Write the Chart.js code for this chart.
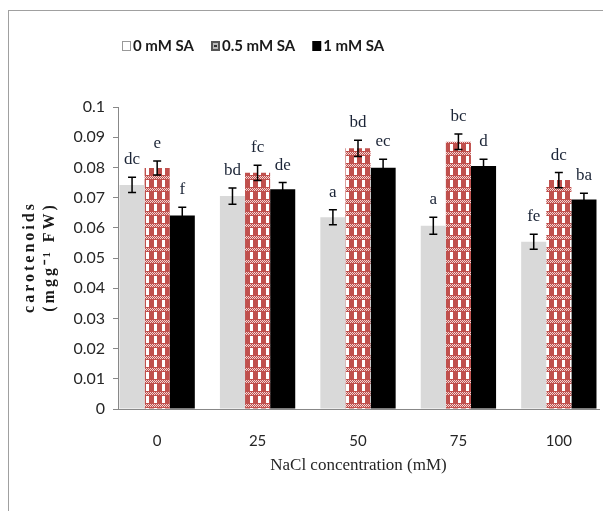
<!DOCTYPE html>
<html>
<head>
<meta charset="utf-8">
<script src="https://cdn.jsdelivr.net/npm/chart.js@4.4.1/dist/chart.umd.min.js"></script>
<style>
  html, body { margin: 0; padding: 0; background: #fff; }
  #wrap { position: relative; width: 603px; height: 511px; }
  #frame { position: absolute; left: 8px; top: 10px; right: 0; bottom: 0; border-top: 1px solid #a0a0a0; border-left: 1px solid #a0a0a0; }
  #chart { position: absolute; left: 0; top: 0; }
</style>
</head>
<body>
<div id="wrap"><div id="frame"></div><canvas id="chart" width="603" height="511"></canvas></div>
<script>
// Chart data
const concentrations = ['0', '25', '50', '75', '100'];
const seriesNames = ['0 mM SA', '0.5 mM SA', '1 mM SA'];
const sa0 = [0.0742, 0.0705, 0.0635, 0.0607, 0.0554];
const sa05 = [0.0798, 0.0782, 0.0863, 0.0885, 0.0758];
const sa1 = [0.0641, 0.0728, 0.0799, 0.0805, 0.0694];
const sa0Err = [0.0025, 0.0027, 0.0025, 0.0028, 0.0025];
const sa05Err = [0.0023, 0.0025, 0.0027, 0.0026, 0.0025];
const sa1Err = [0.0027, 0.0022, 0.0028, 0.0022, 0.0020];
const sa0Letters = ['dc', 'bd', 'a', 'a', 'fe'];
const sa05Letters = ['e', 'fc', 'bd', 'bc', 'dc'];
const sa1Letters = ['f', 'de', 'ec', 'd', 'ba'];
const yTickLabels = ['0', '0.01', '0.02', '0.03', '0.04', '0.05', '0.06', '0.07', '0.08', '0.09', '0.1'];

// red checkered fill for the 0.5 mM bars
function makeCheck() {
  const c = document.createElement('canvas');
  c.width = 8;
  c.height = 12;
  const g = c.getContext('2d');
  g.fillStyle = '#c0504d';
  g.fillRect(0, 0, 8, 12);
  g.fillStyle = '#ffffff';
  g.fillRect(2, 0, 3, 7);
  g.fillStyle = '#f2d4d3';
  for (let x = 0; x < 8; x++) {
    for (let y = 8; y < 11; y++) {
      if ((x + y) % 2 === 0) g.fillRect(x, y, 1, 1);
    }
  }
  return g.createPattern(c, 'repeat');
}

function toPoints(values) {
  return values.map((v, i) => ({ x: i, y: v }));
}

const checkFill = makeCheck();

// error bars + significance letters
const errorBars = {
  id: 'errorBars',
  afterDatasetsDraw(chart) {
    const ctx = chart.ctx;
    const yScale = chart.scales.y;
    ctx.save();
    chart.data.datasets.forEach((ds, d) => {
      const meta = chart.getDatasetMeta(d);
      meta.data.forEach((bar, i) => {
        const v = ds.data[i].y;
        const e = ds.err[i];
        const top = yScale.getPixelForValue(v + e);
        const bot = yScale.getPixelForValue(v - e);
        ctx.strokeStyle = '#000';
        ctx.lineWidth = 1.5;
        ctx.beginPath();
        ctx.moveTo(bar.x, top);
        ctx.lineTo(bar.x, bot);
        ctx.moveTo(bar.x - 4, top);
        ctx.lineTo(bar.x + 4, top);
        ctx.moveTo(bar.x - 4, bot);
        ctx.lineTo(bar.x + 4, bot);
        ctx.stroke();
        ctx.fillStyle = '#1b2436';
        ctx.font = '17px "Liberation Serif"';
        ctx.textAlign = 'center';
        ctx.textBaseline = 'alphabetic';
        ctx.fillText(ds.letters[i], bar.x, top - 13);
      });
    });
    ctx.restore();
  }
};

// legend and y title drawn by hand
const extras = {
  id: 'extras',
  afterDraw(chart) {
    const ctx = chart.ctx;
    ctx.save();
    ctx.font = 'bold 15px Lato';
    ctx.textBaseline = 'middle';
    ctx.textAlign = 'left';
    let x = 122;
    const y = 46;
    seriesNames.forEach((name, i) => {
      if (i === 0) {
        ctx.fillStyle = '#fff';
        ctx.fillRect(x, y - 5, 9, 10);
        ctx.strokeStyle = '#999';
        ctx.lineWidth = 1;
        ctx.strokeRect(x + 0.5, y - 4.5, 8, 9);
      } else if (i === 1) {
        ctx.fillStyle = '#555';
        ctx.fillRect(x, y - 5, 9, 10);
        ctx.fillStyle = '#bbb';
        ctx.fillRect(x + 2, y - 3, 5, 6);
        ctx.fillStyle = '#333';
        ctx.fillRect(x + 3, y - 1, 3, 2);
      } else {
        ctx.fillStyle = '#000';
        ctx.fillRect(x, y - 5, 9, 10);
      }
      ctx.fillStyle = '#1a1a1a';
      ctx.fillText(name, x + 11, y);
      x += 11 + ctx.measureText(name).width + 17;
    });

    ctx.font = 'bold 16px "Liberation Serif"';
    ctx.letterSpacing = '3px';
    ctx.textAlign = 'center';
    ctx.fillStyle = '#1a1a1a';
    ctx.translate(30, 257);
    ctx.rotate(-Math.PI / 2);
    ctx.fillText('carotenoids', 0, 0);
    ctx.fillText('(mgg\u207B\u00B9 FW)', 0, 20);
    ctx.restore();
  }
};

new Chart(document.getElementById('chart'), {
  type: 'bar',
  data: {
    datasets: [
      { label: seriesNames[0], data: toPoints(sa0), err: sa0Err, letters: sa0Letters, backgroundColor: '#d9d9d9' },
      { label: seriesNames[1], data: toPoints(sa05), err: sa05Err, letters: sa05Letters, backgroundColor: checkFill },
      { label: seriesNames[2], data: toPoints(sa1), err: sa1Err, letters: sa1Letters, backgroundColor: '#000000' }
    ]
  },
  options: {
    responsive: false,
    animation: false,
    categoryPercentage: 0.75,
    barPercentage: 1,
    layout: { padding: { top: 107, right: 4, bottom: 0, left: 0 } },
    plugins: {
      legend: { display: false },
      tooltip: { enabled: false }
    },
    scales: {
      x: {
        type: 'linear',
        offset: false,
        min: -0.39,
        max: 4.4,
        afterBuildTicks: s => { s.ticks = concentrations.map((_, i) => ({ value: i })); },
        afterFit: s => { s.height = 102; },
        ticks: {
          callback: v => concentrations[v],
          font: { family: 'Lato', size: 15 },
          color: '#262626',
          padding: 15,
          maxRotation: 0,
          autoSkip: false
        },
        grid: { display: false },
        border: { display: true, color: '#888' },
        title: {
          display: true,
          text: 'NaCl concentration (mM)',
          font: { family: 'Liberation Serif', size: 17 },
          color: '#262626',
          padding: { top: 0, bottom: 35 }
        }
      },
      y: {
        min: 0,
        max: 0.1,
        afterBuildTicks: s => { s.ticks = yTickLabels.map(t => ({ value: parseFloat(t) })); },
        afterFit: s => { s.width = 118; },
        ticks: {
          callback: (v, i) => yTickLabels[i],
          font: { family: 'Lato', size: 16 },
          color: '#262626',
          padding: 8
        },
        grid: { drawOnChartArea: false, tickLength: 5, color: '#888' },
        border: { color: '#888' }
      }
    }
  },
  plugins: [errorBars, extras]
});
</script>
</body>
</html>
